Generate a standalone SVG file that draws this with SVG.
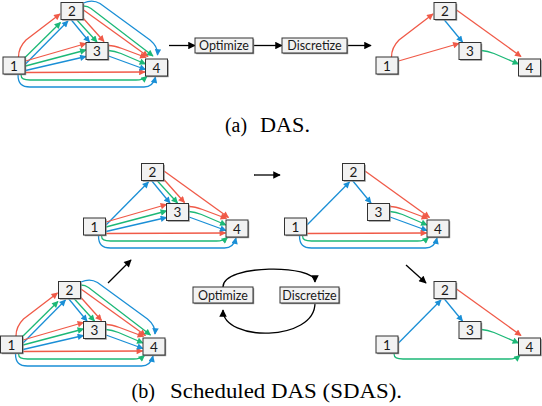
<svg xmlns="http://www.w3.org/2000/svg" xmlns:xlink="http://www.w3.org/1999/xlink" width="542" height="406" viewBox="0 0 542 406">
<style>
.edges use,.edges path{fill:none;stroke-width:1.3}
.r{stroke:#f05a48;marker-end:url(#mr)}
.g{stroke:#1cb877;marker-end:url(#mg)}
.b{stroke:#1a8fd6;marker-end:url(#mb)}
.k{fill:none;stroke:#000;stroke-width:1.3;marker-end:url(#mk)}
.sh{fill:#8c8c8c}
.box{fill:#f2f2f2;stroke:#333;stroke-width:1}
.node text{font-family:Lato,"Open Sans","Liberation Sans",sans-serif;font-size:13.5px;text-anchor:middle;fill:#1a1a1a}
.step text{font-family:Lato,"Open Sans","Liberation Sans",sans-serif;font-size:12.5px;text-anchor:middle;fill:#1a1a1a}
.cap{font-family:"Liberation Serif","Times New Roman",serif;font-size:20px;fill:#000}
</style>
<defs>
<marker id="mr" viewBox="0 0 10 10" refX="9" refY="5" markerWidth="8" markerHeight="6.5" markerUnits="userSpaceOnUse" orient="auto"><path d="M0,0 L10,5 L0,10 z" fill="#f05a48"/></marker>
<marker id="mg" viewBox="0 0 10 10" refX="9" refY="5" markerWidth="8" markerHeight="6.5" markerUnits="userSpaceOnUse" orient="auto"><path d="M0,0 L10,5 L0,10 z" fill="#1cb877"/></marker>
<marker id="mb" viewBox="0 0 10 10" refX="9" refY="5" markerWidth="8" markerHeight="6.5" markerUnits="userSpaceOnUse" orient="auto"><path d="M0,0 L10,5 L0,10 z" fill="#1a8fd6"/></marker>
<marker id="mk" viewBox="0 0 10 10" refX="9" refY="5" markerWidth="9" markerHeight="7.5" markerUnits="userSpaceOnUse" orient="auto"><path d="M0,0 L10,5 L0,10 z" fill="#000"/></marker>
<path id="e12r" d="M18.5,57 C18.5,50 21,45 26,40 L60,14"/>
<path id="e12g" d="M24,58.5 L60.5,22.5"/>
<path id="e12b" d="M25.5,64 L68,21"/>
<path id="e13r" d="M25.5,61 L86,43.5"/>
<path id="e13g" d="M25.5,66 L86,50"/>
<path id="e13b" d="M25.5,70.5 L86,56.5"/>
<path id="e14r" d="M25.5,72.5 L145,72"/>
<path id="e14g" d="M21,74.5 C21,79 24,80 30,80 L136,80 C141,80 144,79 147,76.5"/>
<path id="e14b" d="M18,74.5 C18,84 22,87 30,87 L144,87 C150,87 154,83 155.5,77"/>
<path id="e23b" d="M71,19.5 L89.5,42"/>
<path id="e23g" d="M76.5,19.5 L97,42"/>
<path id="e23r" d="M83,18 L104,41.5"/>
<path id="e24r" d="M83.5,10 L148,56.5"/>
<path id="e24g" d="M83.5,6 C87,6 89,7 91,8.5 L153,56"/>
<path id="e24b" d="M83.5,3 C90,0 96,1 100,3.5 L150,40 C156,45 158,49 157.5,55"/>
<path id="e34r" d="M108.5,45.5 C114,45.5 118,47 122,48.5 L146,57.5"/>
<path id="e34g" d="M108.5,50.5 C114,51 117,52 121,53.5 L145.5,64"/>
<path id="e34b" d="M108.5,56 L145.5,69.5"/>
</defs>

<!-- (a) left: full graph -->
<g id="a-left">
<g class="edges">
<use xlink:href="#e12r" class="r"/><use xlink:href="#e12g" class="g"/><use xlink:href="#e12b" class="b"/>
<use xlink:href="#e13r" class="r"/><use xlink:href="#e13g" class="g"/><use xlink:href="#e13b" class="b"/>
<use xlink:href="#e14r" class="r"/><use xlink:href="#e14g" class="g"/><use xlink:href="#e14b" class="b"/>
<use xlink:href="#e23r" class="r"/><use xlink:href="#e23g" class="g"/><use xlink:href="#e23b" class="b"/>
<use xlink:href="#e24r" class="r"/><use xlink:href="#e24g" class="g"/><use xlink:href="#e24b" class="b"/>
<use xlink:href="#e34r" class="r"/><use xlink:href="#e34g" class="g"/><use xlink:href="#e34b" class="b"/>
</g>
<g id="aL-n1" class="node" transform="translate(3,57)"><rect class="sh" x="1.2" y="1.2" width="22" height="17"/><rect class="box" width="22" height="17"/><text x="11" y="13.5">1</text></g>
<g id="aL-n2" class="node" transform="translate(61,2.5)"><rect class="sh" x="1.2" y="1.2" width="22" height="17"/><rect class="box" width="22" height="17"/><text x="11" y="13.5">2</text></g>
<g id="aL-n3" class="node" transform="translate(86,42.5)"><rect class="sh" x="1.2" y="1.2" width="22" height="17"/><rect class="box" width="22" height="17"/><text x="11" y="13.5">3</text></g>
<g id="aL-n4" class="node" transform="translate(145.5,59)"><rect class="sh" x="1.2" y="1.2" width="22" height="17"/><rect class="box" width="22" height="17"/><text x="11" y="13.5">4</text></g>
</g>

<!-- (a) pipeline -->
<g id="a-flow" class="edges">
<path class="k" d="M169,45.5 L195,45.5"/>
<path class="k" d="M253,45.5 L282,45.5"/>
<path class="k" d="M347,45.5 L371,45.5"/>
</g>
<g id="a-optimize" class="step"><rect class="sh" x="196.2" y="39.2" width="58" height="15"/><rect class="box" x="195" y="38" width="58" height="15"/><text x="224" y="50">Optimize</text></g>
<g id="a-discretize" class="step"><rect class="sh" x="283.2" y="39.2" width="65" height="15"/><rect class="box" x="282" y="38" width="65" height="15"/><text x="314.5" y="50">Discretize</text></g>

<!-- (a) right: result -->
<g id="a-right" transform="translate(373,0)">
<g class="edges">
<use xlink:href="#e12r" class="r"/><use xlink:href="#e13r" class="r"/><use xlink:href="#e23b" class="b"/><use xlink:href="#e24r" class="r"/><use xlink:href="#e34g" class="g"/>
</g>
<g id="aR-n1" class="node" transform="translate(3,57)"><rect class="sh" x="1.2" y="1.2" width="22" height="17"/><rect class="box" width="22" height="17"/><text x="11" y="13.5">1</text></g>
<g id="aR-n2" class="node" transform="translate(61,2.5)"><rect class="sh" x="1.2" y="1.2" width="22" height="17"/><rect class="box" width="22" height="17"/><text x="11" y="13.5">2</text></g>
<g id="aR-n3" class="node" transform="translate(86,42.5)"><rect class="sh" x="1.2" y="1.2" width="22" height="17"/><rect class="box" width="22" height="17"/><text x="11" y="13.5">3</text></g>
<g id="aR-n4" class="node" transform="translate(145.5,59)"><rect class="sh" x="1.2" y="1.2" width="22" height="17"/><rect class="box" width="22" height="17"/><text x="11" y="13.5">4</text></g>
</g>

<text class="cap" x="225" y="131.5" textLength="22" lengthAdjust="spacingAndGlyphs">(a)</text>
<text class="cap" x="260" y="131.5" textLength="50" lengthAdjust="spacingAndGlyphs">DAS.</text>

<!-- (b) top-left -->
<g id="b-tl" transform="translate(80.5,161)">
<g class="edges">
<use xlink:href="#e12b" class="b"/>
<use xlink:href="#e13r" class="r"/><use xlink:href="#e13g" class="g"/><use xlink:href="#e13b" class="b"/>
<use xlink:href="#e14r" class="r"/><use xlink:href="#e14g" class="g"/><use xlink:href="#e14b" class="b"/>
<use xlink:href="#e23r" class="r"/><use xlink:href="#e23g" class="g"/><use xlink:href="#e23b" class="b"/>
<use xlink:href="#e24r" class="r"/>
<use xlink:href="#e34r" class="r"/><use xlink:href="#e34g" class="g"/><use xlink:href="#e34b" class="b"/>
</g>
<g id="bTL-n1" class="node" transform="translate(3,57)"><rect class="sh" x="1.2" y="1.2" width="22" height="17"/><rect class="box" width="22" height="17"/><text x="11" y="13.5">1</text></g>
<g id="bTL-n2" class="node" transform="translate(61,2.5)"><rect class="sh" x="1.2" y="1.2" width="22" height="17"/><rect class="box" width="22" height="17"/><text x="11" y="13.5">2</text></g>
<g id="bTL-n3" class="node" transform="translate(86,42.5)"><rect class="sh" x="1.2" y="1.2" width="22" height="17"/><rect class="box" width="22" height="17"/><text x="11" y="13.5">3</text></g>
<g id="bTL-n4" class="node" transform="translate(145.5,59)"><rect class="sh" x="1.2" y="1.2" width="22" height="17"/><rect class="box" width="22" height="17"/><text x="11" y="13.5">4</text></g>
</g>

<!-- (b) top-right -->
<g id="b-tr" transform="translate(281.5,161)">
<g class="edges">
<use xlink:href="#e12b" class="b"/><use xlink:href="#e23b" class="b"/><use xlink:href="#e24r" class="r"/>
<use xlink:href="#e34r" class="r"/><use xlink:href="#e34g" class="g"/><use xlink:href="#e34b" class="b"/>
<use xlink:href="#e14r" class="r"/><use xlink:href="#e14g" class="g"/><use xlink:href="#e14b" class="b"/>
</g>
<g id="bTR-n1" class="node" transform="translate(3,57)"><rect class="sh" x="1.2" y="1.2" width="22" height="17"/><rect class="box" width="22" height="17"/><text x="11" y="13.5">1</text></g>
<g id="bTR-n2" class="node" transform="translate(61,2.5)"><rect class="sh" x="1.2" y="1.2" width="22" height="17"/><rect class="box" width="22" height="17"/><text x="11" y="13.5">2</text></g>
<g id="bTR-n3" class="node" transform="translate(86,42.5)"><rect class="sh" x="1.2" y="1.2" width="22" height="17"/><rect class="box" width="22" height="17"/><text x="11" y="13.5">3</text></g>
<g id="bTR-n4" class="node" transform="translate(145.5,59)"><rect class="sh" x="1.2" y="1.2" width="22" height="17"/><rect class="box" width="22" height="17"/><text x="11" y="13.5">4</text></g>
</g>

<!-- (b) bottom-left: full graph -->
<g id="b-bl" transform="translate(-2.5,279)">
<g class="edges">
<use xlink:href="#e12r" class="r"/><use xlink:href="#e12g" class="g"/><use xlink:href="#e12b" class="b"/>
<use xlink:href="#e13r" class="r"/><use xlink:href="#e13g" class="g"/><use xlink:href="#e13b" class="b"/>
<use xlink:href="#e14r" class="r"/><use xlink:href="#e14g" class="g"/><use xlink:href="#e14b" class="b"/>
<use xlink:href="#e23r" class="r"/><use xlink:href="#e23g" class="g"/><use xlink:href="#e23b" class="b"/>
<use xlink:href="#e24r" class="r"/><use xlink:href="#e24g" class="g"/><use xlink:href="#e24b" class="b"/>
<use xlink:href="#e34r" class="r"/><use xlink:href="#e34g" class="g"/><use xlink:href="#e34b" class="b"/>
</g>
<g id="bBL-n1" class="node" transform="translate(3,57)"><rect class="sh" x="1.2" y="1.2" width="22" height="17"/><rect class="box" width="22" height="17"/><text x="11" y="13.5">1</text></g>
<g id="bBL-n2" class="node" transform="translate(61,2.5)"><rect class="sh" x="1.2" y="1.2" width="22" height="17"/><rect class="box" width="22" height="17"/><text x="11" y="13.5">2</text></g>
<g id="bBL-n3" class="node" transform="translate(86,42.5)"><rect class="sh" x="1.2" y="1.2" width="22" height="17"/><rect class="box" width="22" height="17"/><text x="11" y="13.5">3</text></g>
<g id="bBL-n4" class="node" transform="translate(145.5,59)"><rect class="sh" x="1.2" y="1.2" width="22" height="17"/><rect class="box" width="22" height="17"/><text x="11" y="13.5">4</text></g>
</g>

<!-- (b) bottom-right -->
<g id="b-br" transform="translate(373,279)">
<g class="edges">
<use xlink:href="#e12b" class="b"/><use xlink:href="#e23b" class="b"/><use xlink:href="#e24r" class="r"/><use xlink:href="#e34g" class="g"/><use xlink:href="#e14g" class="g"/>
</g>
<g id="bBR-n1" class="node" transform="translate(3,57)"><rect class="sh" x="1.2" y="1.2" width="22" height="17"/><rect class="box" width="22" height="17"/><text x="11" y="13.5">1</text></g>
<g id="bBR-n2" class="node" transform="translate(61,2.5)"><rect class="sh" x="1.2" y="1.2" width="22" height="17"/><rect class="box" width="22" height="17"/><text x="11" y="13.5">2</text></g>
<g id="bBR-n3" class="node" transform="translate(86,42.5)"><rect class="sh" x="1.2" y="1.2" width="22" height="17"/><rect class="box" width="22" height="17"/><text x="11" y="13.5">3</text></g>
<g id="bBR-n4" class="node" transform="translate(145.5,59)"><rect class="sh" x="1.2" y="1.2" width="22" height="17"/><rect class="box" width="22" height="17"/><text x="11" y="13.5">4</text></g>
</g>

<!-- (b) flow arrows and cycle -->
<g id="b-flow" class="edges">
<path class="k" d="M254,175 L280,175"/>
<path class="k" d="M108,283 L131,260"/>
<path class="k" d="M406,265 L426,283"/>
<path class="k" d="M223,287 C223,264 315,264 315,282"/>
<path class="k" d="M315,303 C315,342 223,342 223,310"/>
</g>
<g id="b-optimize" class="step"><rect class="sh" x="194.2" y="288.2" width="60" height="16"/><rect class="box" x="193" y="287" width="60" height="16"/><text x="223" y="299.5">Optimize</text></g>
<g id="b-discretize" class="step"><rect class="sh" x="281.2" y="288.2" width="59" height="16"/><rect class="box" x="280" y="287" width="59" height="16"/><text x="309.5" y="299.5">Discretize</text></g>

<text class="cap" x="131.5" y="398" textLength="23.5" lengthAdjust="spacingAndGlyphs">(b)</text>
<text class="cap" x="170" y="398" textLength="232" lengthAdjust="spacingAndGlyphs">Scheduled DAS (SDAS).</text>
</svg>
